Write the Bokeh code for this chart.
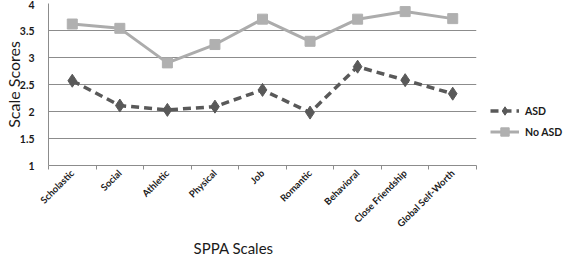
import math

from bokeh.embed import file_html
from bokeh.models import FixedTicker, Legend, LegendItem, Title
from bokeh.plotting import figure
from bokeh.resources import INLINE

# SPPA subscale means for the two groups
scales = ["Scholastic", "Social", "Athletic", "Physical", "Job", "Romantic",
          "Behavioral", "Close Friendship", "Global Self-Worth"]
asd = [2.57, 2.11, 2.03, 2.09, 2.40, 1.98, 2.83, 2.58, 2.33]
no_asd = [3.62, 3.54, 2.90, 3.24, 3.71, 3.30, 3.71, 3.85, 3.72]
y_ticks = [1, 1.5, 2, 2.5, 3, 3.5, 4]
y_labels = ["1", "1.5", "2", "2.5", "3", "3.5", "4"]

# category centres on a numeric axis so tick marks can sit between categories
xs = [i + 0.5 for i in range(len(scales))]
bounds = list(range(len(scales) + 1))

FONT = "Lato"
TEXT = "#1a1a1a"
AXIS_GREY = "#8c8c8c"

p = figure(frame_width=428, frame_height=162, output_backend="svg", toolbar_location=None,
           x_range=(0, len(scales)), y_range=(1, 4),
           min_border_left=30, min_border_right=86, min_border_top=3, min_border_bottom=0)
p.outline_line_color = None
p.background_fill_color = "white"

# x axis: labels at centres, tick marks at boundaries (minor ticks)
p.xaxis.ticker = FixedTicker(ticks=xs, minor_ticks=bounds)
p.xaxis.major_label_overrides = {x: s for x, s in zip(xs, scales)}
p.xaxis.major_label_orientation = math.pi / 4
p.xaxis.major_tick_line_color = None
p.xaxis.minor_tick_in = 0
p.xaxis.minor_tick_out = 4
p.xaxis.minor_tick_line_color = AXIS_GREY
p.xaxis.axis_line_color = AXIS_GREY
p.xaxis.major_label_text_font = FONT
p.xaxis.major_label_text_font_style = "bold"
p.xaxis.major_label_text_font_size = "9.5px"
p.xaxis.major_label_text_color = TEXT
p.xaxis.major_label_standoff = 0
p.xgrid.grid_line_color = None

# x axis title sits left of the frame centre
p.add_layout(Title(text="SPPA Scales", align="left", offset=145, standoff=0,
                   text_font=FONT, text_font_style="normal", text_font_size="15px",
                   text_color=TEXT), "below")

# y axis
p.yaxis.ticker = FixedTicker(ticks=y_ticks)
p.yaxis.major_label_overrides = {t: l for t, l in zip(y_ticks, y_labels)}
p.yaxis.major_tick_line_color = None
p.yaxis.minor_tick_line_color = None
p.yaxis.axis_line_color = AXIS_GREY
p.yaxis.major_label_text_font = FONT
p.yaxis.major_label_text_font_style = "bold"
p.yaxis.major_label_text_font_size = "10.5px"
p.yaxis.major_label_text_color = TEXT
p.yaxis.major_label_standoff = 8
p.yaxis.axis_label = "Scale Scores"
p.yaxis.axis_label_text_font = FONT
p.yaxis.axis_label_text_font_style = "normal"
p.yaxis.axis_label_text_font_size = "16px"
p.yaxis.axis_label_text_color = TEXT
p.yaxis.axis_label_standoff = -6
p.ygrid.grid_line_color = AXIS_GREY
p.ygrid.grid_line_width = 1

# series
ln_no = p.line(xs, no_asd, line_color="#acacac", line_width=3)
mk_no = p.scatter(xs, no_asd, marker="square", size=10,
                  fill_color="#b0b0b0", line_color="#b0b0b0")
ln_asd = p.line(xs, asd, line_color="#595959", line_width=3.5, line_dash="8 5")
mk_asd = p.scatter(xs, asd, marker="diamond", size=13,
                   fill_color="#595959", line_color="#595959")

legend = Legend(items=[LegendItem(label="ASD", renderers=[ln_asd, mk_asd]),
                       LegendItem(label="No ASD", renderers=[ln_no, mk_no])],
                location=(14, 23), orientation="vertical",
                padding=0, margin=0, spacing=0,
                glyph_width=29, glyph_height=21, label_standoff=6,
                label_text_font=FONT, label_text_font_style="bold",
                label_text_font_size="10.5px", label_text_color=TEXT,
                border_line_color=None, background_fill_alpha=0)
p.add_layout(legend, "right")

open("out.html", "w").write(file_html(p, INLINE))
